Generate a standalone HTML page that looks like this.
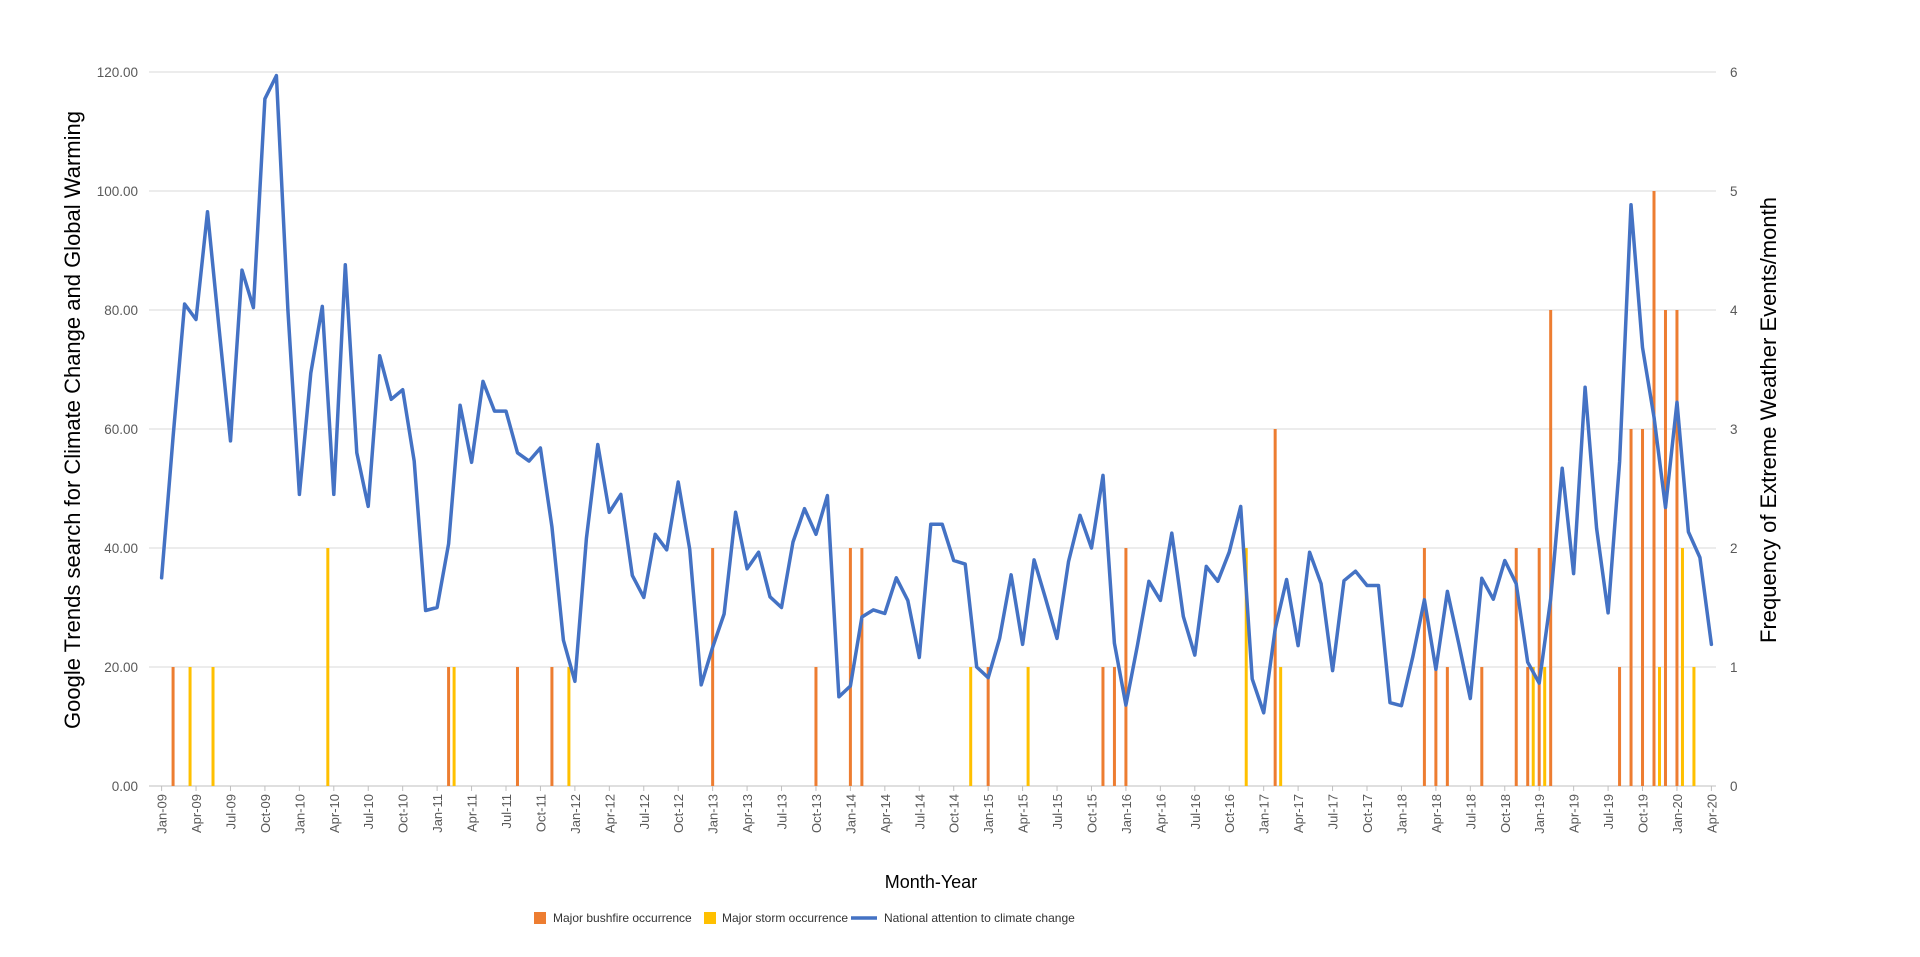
<!DOCTYPE html>
<html><head><meta charset="utf-8"><style>
html,body{margin:0;padding:0;background:#fff;width:1920px;height:957px;overflow:hidden}
svg{display:block;font-family:"Liberation Sans",Arial,sans-serif}
</style></head><body>
<svg id="chart" width="1920" height="957" viewBox="0 0 1920 957" xmlns="http://www.w3.org/2000/svg">
<g id="grid"></g>
<g id="bars"></g>
<g id="line"></g>
<g id="axes"></g>
<text transform="translate(80,420) rotate(-90)" text-anchor="middle" font-size="22" fill="#000">Google Trends search for Climate Change and Global Warming</text>
<text transform="translate(1776,420) rotate(-90)" text-anchor="middle" font-size="22" fill="#000">Frequency of Extreme Weather Events/month</text>
<text x="931" y="888" text-anchor="middle" font-size="18" fill="#000">Month-Year</text>
<g>
<rect x="534" y="912" width="12" height="12" fill="#ED7D31"/>
<text x="553" y="922" font-size="12" fill="#333">Major bushfire occurrence</text>
<rect x="704" y="912" width="12" height="12" fill="#FFC000"/>
<text x="722" y="922" font-size="12" fill="#333">Major storm occurrence</text>
<line x1="851" y1="918" x2="877" y2="918" stroke="#4472C4" stroke-width="3.5"/>
<text x="884" y="922" font-size="12" fill="#333">National attention to climate change</text>
</g>
</svg>
<script>
const attention = [35,58.7,81,78.4,96.5,77,58,86.7,80.4,115.5,119.4,80,
49,69.4,80.6,49,87.6,56,47,72.3,65,66.6,54.6,29.5,
30,40.7,64,54.4,68,63,63,56,54.6,56.8,43.6,24.5,
17.6,41.6,57.4,46,49,35.4,31.7,42.3,39.7,51.1,39.8,17,
23.3,28.9,46,36.5,39.3,31.8,30,41,46.6,42.3,48.8,15,
16.8,28.4,29.6,29,35,31.2,21.6,44,44,37.9,37.3,20,
18.2,24.8,35.5,23.8,38,31.5,24.8,37.7,45.5,40,52.2,24,
13.6,23.6,34.4,31.2,42.5,28.5,22,36.9,34.4,39.3,47,18,
12.3,26.4,34.7,23.6,39.3,34,19.4,34.5,36.1,33.7,33.7,14,
13.5,21.8,31.3,19.6,32.7,23.9,14.7,34.9,31.4,37.9,34,20.8,
17.3,31.5,53.4,35.7,67,43.3,29.1,54.5,97.7,73.7,62,46.8,
64.5,42.7,38.4,23.8];
const bushfireMonths = [1,25,31,34,48,57,60,61,72,82,83,84,97,110,111,112,115,118,119,120,121,127,128,129,130,131,132];
const bushfireCounts = [1,1,1,1,2,1,2,2,1,1,1,2,3,2,1,1,1,2,1,2,4,1,3,3,5,4,4];
const stormMonths = [2,4,14,25,35,70,75,94,97,119,120,130,132,133];
const stormCounts = [1,1,2,1,1,1,1,2,1,1,1,1,2,1];
const leftTicks = [0,20,40,60,80,100,120];
const leftTickLabels = ["0.00","20.00","40.00","60.00","80.00","100.00","120.00"];
const rightTicks = [0,1,2,3,4,5,6];
const monthNames = ["Jan","Feb","Mar","Apr","May","Jun","Jul","Aug","Sep","Oct","Nov","Dec"];

const NS = "http://www.w3.org/2000/svg";
const X0 = 161.6, XSTEP = 11.48, Y0 = 786, YTOP = 72;
const gridL = 149, gridR = 1716;
function xPos(i){ return X0 + i*XSTEP; }
function yLeft(v){ return Y0 - (v/120)*(Y0-YTOP); }
function yRight(v){ return Y0 - (v/6)*(Y0-YTOP); }
function mk(tag, attrs, parent){ const e=document.createElementNS(NS,tag); for(const k in attrs) e.setAttribute(k,attrs[k]); parent.appendChild(e); return e; }

const grid = document.getElementById('grid');
leftTicks.forEach((t,k)=>{
  const y = yLeft(t);
  const gl = mk('line',{x1:gridL,x2:gridR,y1:y,y2:y,stroke:k===0?'#bfbfbf':'#d9d9d9','stroke-width':1},grid);
  
  
  const lt = mk('text',{x:138,y:y+5,'text-anchor':'end','font-size':13.5,fill:'#595959'},grid);
  lt.textContent = leftTickLabels[k];
  
  
});
rightTicks.forEach(t=>{
  const y = yRight(t);
  const rt = mk('text',{x:1730,y:y+5,'font-size':13.5,fill:'#595959'},grid);
  rt.textContent = String(t);
  
  
});

const axes = document.getElementById('axes');
for(let i=0;i<attention.length;i+=3){
  const x = xPos(i);
  const tk = mk('line',{x1:x,x2:x,y1:Y0,y2:Y0+5,stroke:'#bfbfbf','stroke-width':1},axes);
  
  
  const yr = 9 + Math.floor(i/12);
  const lab = monthNames[i%12] + '-' + (yr<10?'0'+yr:String(yr));
  const tx = mk('text',{transform:`translate(${x+5},${Y0+8}) rotate(-90)`,'text-anchor':'end','font-size':13,fill:'#595959'},axes);
  tx.textContent = lab;
  
  
}

const bars = document.getElementById('bars');
bushfireMonths.forEach((m,k)=>{
  const x = xPos(m) - 1.5, y = yRight(bushfireCounts[k]);
  const r = mk('rect',{x:x,y:y,width:3,height:Y0-y,fill:'#ED7D31'},bars);
  
  
});
stormMonths.forEach((m,k)=>{
  const x = xPos(m) + 4, y = yRight(stormCounts[k]);
  const r = mk('rect',{x:x,y:y,width:3,height:Y0-y,fill:'#FFC000'},bars);
  
  
});

const pts = attention.map((v,i)=>xPos(i).toFixed(1)+','+yLeft(v).toFixed(1)).join(' ');
const pl = mk('polyline',{points:pts,fill:'none',stroke:'#4472C4','stroke-width':3.5,'stroke-linejoin':'round','stroke-linecap':'round'},document.getElementById('line'));


</script>
</body></html>
